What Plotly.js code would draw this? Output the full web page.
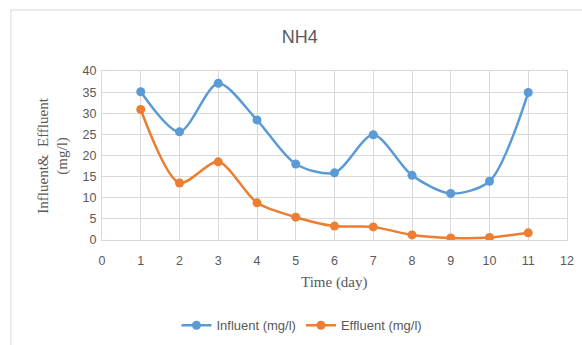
<!DOCTYPE html>
<html>
<head>
<meta charset="utf-8">
<script src="https://cdn.plot.ly/plotly-3.0.1.min.js"></script>
<style>
  html, body { margin: 0; padding: 0; background: #ffffff; }
  #chart { width: 582px; height: 345px; }
</style>
</head>
<body>
<div id="chart"></div>
<script>
// NH4 concentrations by day
const days = [1, 2, 3, 4, 5, 6, 7, 8, 9, 10, 11];
const influent = [35.1, 25.6, 37.1, 28.4, 18.0, 15.9, 24.9, 15.3, 11.0, 13.9, 34.9];
const effluent = [30.9, 13.5, 18.5, 8.8, 5.4, 3.3, 3.1, 1.2, 0.5, 0.6, 1.7];
const xTicks = [0, 1, 2, 3, 4, 5, 6, 7, 8, 9, 10, 11, 12];
const yTicks = [0, 5, 10, 15, 20, 25, 30, 35, 40];

const sansFont = 'Liberation Sans, Arial, sans-serif';
const serifFont = 'Liberation Serif, Times New Roman, serif';
const textGray = '#595959';
const gridGray = '#d9d9d9';

const traces = [
  {
    x: days, y: influent, name: 'Influent (mg/l)',
    type: 'scatter', mode: 'lines+markers',
    line: { color: '#5b9bd5', width: 2.5, shape: 'spline', smoothing: 0.8 },
    marker: { color: '#5b9bd5', size: 9 }
  },
  {
    x: days, y: effluent, name: 'Effluent (mg/l)',
    type: 'scatter', mode: 'lines+markers',
    line: { color: '#ed7d31', width: 2.5, shape: 'spline', smoothing: 0.8 },
    marker: { color: '#ed7d31', size: 9 }
  }
];

const layout = {
  width: 582, height: 345,
  margin: { l: 102, r: 15, t: 71, b: 105, autoexpand: false },
  paper_bgcolor: '#ffffff', plot_bgcolor: '#ffffff',
  title: {
    text: 'NH4',
    font: { family: sansFont, size: 18, color: textGray },
    x: 0.515, xanchor: 'center', y: 0.895, yanchor: 'middle'
  },
  xaxis: {
    range: [0, 12], tickvals: xTicks, ticktext: xTicks.map(String),
    automargin: false,
    showgrid: true, gridcolor: gridGray, gridwidth: 1,
    showline: true, linecolor: gridGray, linewidth: 1, mirror: true,
    zeroline: false, ticks: 'outside', ticklen: 9, tickcolor: 'rgba(0,0,0,0)',
    tickfont: { family: sansFont, size: 12.5, color: textGray }
  },
  yaxis: {
    range: [0, 40], tickvals: yTicks, ticktext: yTicks.map(String),
    automargin: false,
    showgrid: true, gridcolor: gridGray, gridwidth: 1,
    showline: true, linecolor: gridGray, linewidth: 1, mirror: true,
    zeroline: false, ticks: 'outside', ticklen: 2, tickcolor: 'rgba(0,0,0,0)',
    tickfont: { family: sansFont, size: 12.5, color: textGray }
  },
  annotations: [
    {
      text: 'Time (day)', xref: 'paper', yref: 'paper',
      x: 0.5, y: -0.254, xanchor: 'center', yanchor: 'middle', showarrow: false,
      font: { family: serifFont, size: 15, color: textGray }
    },
    {
      text: 'Influent&  Effluent<br>(mg/l)', xref: 'paper', yref: 'paper',
      x: -0.105, y: 0.5, xanchor: 'center', yanchor: 'middle', showarrow: false,
      textangle: -90,
      font: { family: serifFont, size: 15, color: textGray }
    }
  ],
  showlegend: true,
  legend: {
    orientation: 'h', x: 0.43, xanchor: 'center', y: -0.505, yanchor: 'middle',
    font: { family: sansFont, size: 13, color: textGray },
    bgcolor: 'rgba(0,0,0,0)'
  },
  shapes: [
    {
      type: 'rect', xref: 'paper', yref: 'paper',
      x0: -0.196, x1: 1.2, y0: -1.0, y1: 1.361,
      line: { color: gridGray, width: 1 }, fillcolor: 'rgba(0,0,0,0)', layer: 'below'
    }
  ]
};

Plotly.newPlot('chart', traces, layout, { displayModeBar: false, staticPlot: true });
</script>
</body>
</html>
